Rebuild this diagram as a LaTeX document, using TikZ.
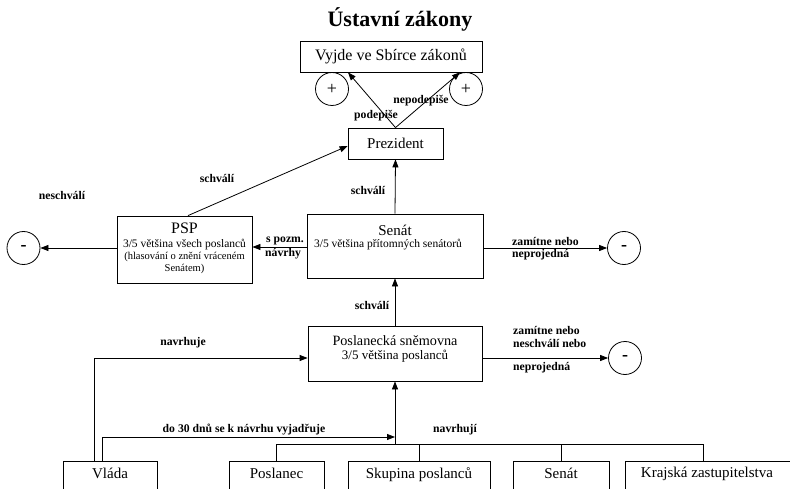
\documentclass[tikz,border=0pt]{standalone}
\usepackage{fontspec}
\setmainfont{Liberation Serif}
\usetikzlibrary{arrows.meta}
\begin{document}
\begin{tikzpicture}[x=1pt,y=-1pt,
  box/.style={draw, line width=0.8pt, inner sep=0pt},
  circ/.style={draw, circle, line width=0.8pt, minimum size=33pt, inner sep=0pt},
  big/.style={inner sep=0pt, font=\fontsize{15}{17}\selectfont},
  sub/.style={inner sep=0pt, font=\fontsize{11.5}{13}\selectfont},
  small/.style={inner sep=0pt, align=center, font=\fontsize{10.5}{11.5}\selectfont},
  lbl/.style={inner sep=0pt, font=\bfseries\fontsize{11.7}{13}\selectfont},
  ln/.style={line width=0.8pt},
  arr/.style={line width=0.8pt, -{Triangle[length=8pt,width=6pt]}},
  minus/.style={circ, font=\bfseries\fontsize{18}{20}\selectfont},
  plus/.style={circ, font=\fontsize{18}{20}\selectfont},
]
\useasboundingbox (0,0) rectangle (790,489);
\clip (0,0) rectangle (790,489);

% title
\node[inner sep=0pt, font=\bfseries\fontsize{22}{25}\selectfont] (title) at (400,19) {Ústavní zákony};

% top
\node[box, big, font=\fontsize{16}{18}\selectfont, minimum width=182pt, minimum height=31pt] (vyjde) at (391,56.5) {Vyjde ve Sbírce zákonů};
\node[plus] (plus1) at (332,89) {+};
\node[plus] (plus2) at (466,89) {+};
\node[box, big, minimum width=95pt, minimum height=31pt] (prez) at (395.5,143.5) {Prezident};

% PSP
\node[box, minimum width=135pt, minimum height=67pt] (psp) at (184.5,249.5) {};
\node[big, font=\fontsize{16}{18}\selectfont] (psptitle) at (184.5,228) {PSP};
\node[sub] (psptext) at (184.5,245) {3/5 většina všech poslanců};
\node[small] (psptext2) at (184.5,263) {(hlasování o znění vráceném\\Senátem)};

% Senat
\node[box, minimum width=176pt, minimum height=64pt] (senat) at (395,246) {};
\node[big] (senattitle) at (395,230) {Senát};
\node[sub] (senattext) at (388,245) {3/5 většina přítomných senátorů};

% Poslanecka snemovna
\node[box, minimum width=174pt, minimum height=55pt] (posl) at (395,353.5) {};
\node[big, font=\fontsize{14.2}{16}\selectfont] (posltitle) at (395,341) {Poslanecká sněmovna};
\node[inner sep=0pt, font=\fontsize{13}{15}\selectfont] (posltext) at (395,356.5) {3/5 většina poslanců};

% minus circles
\node[minus] (minus1) at (23.5,248) {\raisebox{-5pt}{-}};
\node[minus] (minus2) at (624,248) {\raisebox{-5pt}{-}};
\node[minus] (minus3) at (625,358) {\raisebox{-5pt}{-}};

% bottom boxes
\node[box, big, minimum width=94pt, minimum height=40pt, text depth=15pt] (vlada) at (110,481) {Vláda};
\node[box, big, minimum width=95pt, minimum height=40pt, text depth=15pt] (poslanec) at (276.5,481) {Poslanec};
\node[box, big, minimum width=142pt, minimum height=40pt, text depth=15pt] (skupina) at (419,481) {Skupina poslanců};
\node[box, big, minimum width=96pt, minimum height=40pt, text depth=15pt] (senat2) at (561,481) {Senát};
\node[box, minimum width=175pt, minimum height=40pt] (kraj) at (712.5,481) {};
\node[big] (krajtext) at (707,474) {Krajská zastupitelstva};

% connectors top
\draw[arr] (prez.north) -- ([xshift=-43pt]vyjde.south);
\draw[arr] (prez.north) -- ([xshift=69pt]vyjde.south);
\node[lbl] (podepise) at (376,116) {podepiše};
\node[lbl] (nepodepise) at (421,101) {nepodepiše};

\draw[arr] (psp.north) ++(3.5,0) coordinate (pspn) -- ([yshift=-2.5pt]prez.west);
\node[lbl] (schvali1) at (217,178) {schválí};

\draw[arr] (senat.north) -- (prez.south);
\node[lbl] (schvali2) at (368,190) {schválí};

\draw[arr] (psp.west |- minus1) coordinate (pspw) -- (minus1.east);
\node[lbl] (neschvali) at (62,195) {neschválí};

\draw[arr] (senat.west |- 0,247) coordinate (senw) -- (senw -| psp.east);
\node[lbl, anchor=west] (spozm) at (266,241) {s pozm.};
\node[lbl, anchor=west] (navrhy) at (265,253.5) {návrhy};

\draw[arr] (senat.east |- minus2) coordinate (sene) -- (minus2.west);
\node[lbl, anchor=west] (zam1) at (512,241) {zamítne nebo};
\node[lbl, anchor=west] (neproj1) at (512,255) {neprojedná};

\draw[arr] (posl.north) -- (senat.south);
\node[lbl] (schvali3) at (372,305) {schválí};

\draw[arr] (posl.east |- minus3) coordinate (pose) -- (minus3.west);
\node[lbl, anchor=west] (zam2) at (513,330) {zamítne nebo};
\node[lbl, anchor=west] (nesch2) at (513,343) {neschválí nebo};
\node[lbl, anchor=west] (neproj2) at (513,368) {neprojedná};

% Vlada connectors
\coordinate (vl1) at (94,461);
\coordinate (vl2) at (102,461);
\draw[arr] (vl1) |- (posl.west |- 0,358);
\node[lbl] (navrhuje) at (183,343) {navrhuje};
\coordinate (join) at (395,437);
\draw[arr] (vl2) |- (join);
\node[lbl] (do30) at (244,430) {do 30 dnů se k návrhu vyjadřuje};

% bus
\coordinate (busc) at (395,444);
\coordinate (busr) at (703,444);
\draw[ln] (poslanec.north) |- (busr) -- (busr |- kraj.north);
\draw[ln] (skupina.north) -- (skupina.north |- busc);
\draw[ln] (senat2.north) -- (senat2.north |- busc);
\draw[arr] (busc) -- (posl.south);
\node[lbl] (navrhuji) at (455,430) {navrhují};
\end{tikzpicture}
\end{document}
